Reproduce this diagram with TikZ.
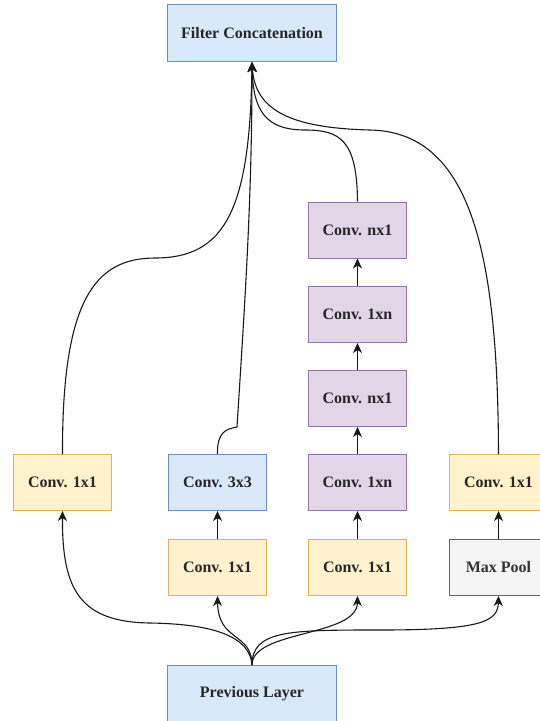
\documentclass[tikz,border=0pt]{standalone}
\usepackage{fontspec}
\setmainfont{Liberation Serif}
\usetikzlibrary{arrows.meta}
\definecolor{bluefill}{HTML}{DAE8FC}
\definecolor{bluedraw}{HTML}{6C8EBF}
\definecolor{yelfill}{HTML}{FFF2CC}
\definecolor{yeldraw}{HTML}{D6B656}
\definecolor{purfill}{HTML}{E1D5E7}
\definecolor{purdraw}{HTML}{9673A6}
\definecolor{greyfill}{HTML}{F5F5F5}
\definecolor{greydraw}{HTML}{666666}
\definecolor{greytext}{HTML}{333333}
\tikzset{
  box/.style={rectangle, line width=1pt, minimum width=98pt, minimum height=56pt,
    inner sep=0pt, font=\fontsize{16}{18}\selectfont\bfseries, text=black!85},
  wide/.style={minimum width=169pt, minimum height=57pt},
  bluebox/.style={box, fill=bluefill, draw=bluedraw},
  yelbox/.style={box, fill=yelfill, draw=yeldraw},
  purbox/.style={box, fill=purfill, draw=purdraw},
  greybox/.style={box, fill=greyfill, draw=greydraw, text=greytext},
  conn/.style={line width=1.1pt, draw=black!90, -{Stealth[length=10pt,width=9pt,inset=3pt]}},
}
\begin{document}
\begin{tikzpicture}[x=1pt,y=-1pt]
\useasboundingbox (0,0) rectangle (539,721);

% outputs and inputs of the module
\node[bluebox, wide] (concat) at (252,33) {Filter Concatenation};
\node[bluebox, wide] (prev) at (252,694) {Previous Layer};

% branch 1: single 1x1
\node[yelbox] (b1) at (62.5,482.5) {Conv. 1x1};

% branch 2: 1x1 then 3x3
\node[yelbox] (b2a) at (217.5,567.5) {Conv. 1x1};
\node[bluebox] (b2b) at (217.5,482.5) {Conv. 3x3};

% branch 3: 1x1 then factorised nxn
\node[yelbox] (b3a) at (357.5,567.5) {Conv. 1x1};
\node[purbox] (b3b) at (357.5,482.5) {Conv. 1xn};
\node[purbox] (b3c) at (357.5,398.5) {Conv. nx1};
\node[purbox] (b3d) at (357.5,314.5) {Conv. 1xn};
\node[purbox] (b3e) at (357.5,230) {Conv. nx1};

% branch 4: pooling then 1x1
\node[greybox] (b4a) at (498.5,567.5) {Max Pool};
\node[yelbox] (b4b) at (498.5,482.5) {Conv. 1x1};

% waypoints of the curved connectors
\coordinate (w1) at (150,623);
\coordinate (w4) at (380,630);
\coordinate (u1) at (155,258);
\coordinate (u2) at (237,427);
\coordinate (u3) at (305,130);
\coordinate (u4) at (370,130);

% fan-out from the previous layer
\draw[conn] (prev.north) .. controls (250,637) and (215,624) .. (w1)
  .. controls (80,622) and (62,590) .. (b1.south);
\draw[conn] (prev.north) .. controls (252,632) and (218,642) .. (b2a.south);
\draw[conn] (prev.north) .. controls (252,630) and (357,637) .. (b3a.south);
\draw[conn] (prev.north) .. controls (252,630) and (290,630) .. (w4)
  .. controls (480,630) and (498,622) .. (b4a.south);

% inside the branches
\draw[conn] (b2a) -- (b2b);
\draw[conn] (b3a) -- (b3b);
\draw[conn] (b3b) -- (b3c);
\draw[conn] (b3c) -- (b3d);
\draw[conn] (b3d) -- (b3e);
\draw[conn] (b4a) -- (b4b);

% fan-in to the concatenation
\draw[conn] (b1.north) .. controls (62,300) and (95,258) .. (u1)
  .. controls (225,258) and (250,210) .. (concat.south);
\draw[conn] (b2b.north) .. controls (217,432) and (226,429) .. (u2)
  .. controls (245,300) and (252,200) .. (concat.south);
\draw[conn] (b3e.north) .. controls (357,140) and (340,130) .. (u3)
  .. controls (265,130) and (253,110) .. (concat.south);
\draw[conn] (b4b.north) .. controls (498,250) and (470,132) .. (u4)
  .. controls (290,128) and (255,110) .. (concat.south);
\end{tikzpicture}
\end{document}
